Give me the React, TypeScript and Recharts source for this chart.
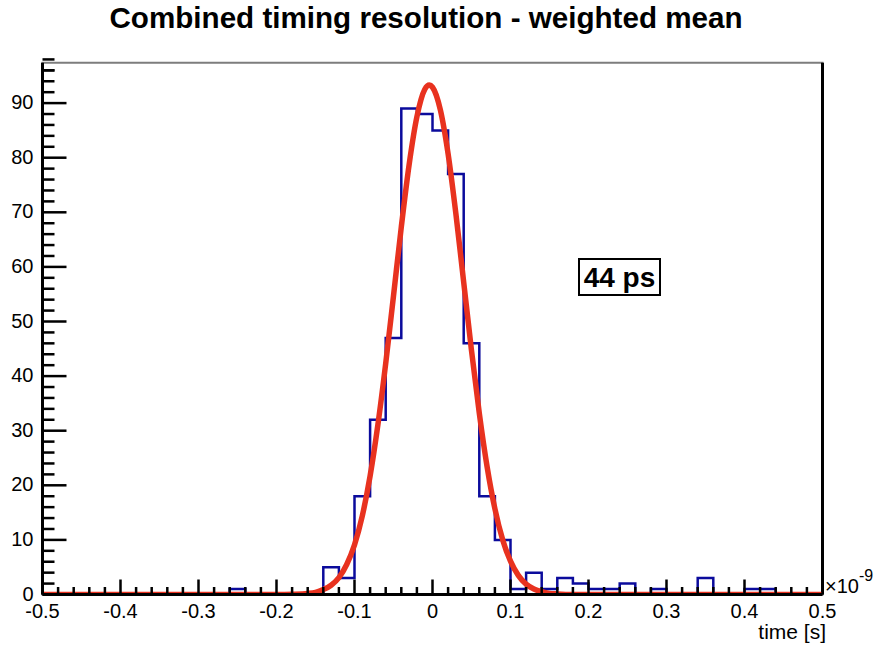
import { ComposedChart, Line, ReferenceArea, ReferenceLine, XAxis, YAxis } from "recharts";

const FONT = "'Liberation Sans', Arial, Helvetica, sans-serif";

// ROOT-like palette
const COLOR = {
  hist: "#0b0b9c", // histogram outline
  fit: "#e8321f", // gaussian fit
  axis: "#000000",
  frame: "#7d7d7d",
} as const;

// 50 bins of 0.02 (x1e-9 s) from -0.5 to 0.5
const BIN_LOW = -0.5;
const BIN_WIDTH = 0.02;
const binCounts = [
  0, 0, 0, 0, 0, 0, 0, 0, 0, 0, // -0.50 .. -0.32
  0, 0, 1, 0, 0, 0, 0, 0, 5, 3, // -0.30 .. -0.12
  18, 32, 47, 89, 88, 85, 77, 46, 18, 10, // -0.10 .. 0.08
  1, 4, 1, 3, 2, 1, 1, 2, 0, 1, // 0.10 .. 0.28
  0, 0, 3, 0, 0, 1, 1, 0, 0, 0, // 0.30 .. 0.48
];

// fitted gaussian
const fitX = [
  -0.5, -0.2, -0.18, -0.16, -0.15, -0.14, -0.13, -0.12, -0.11, -0.1, -0.09, -0.08, -0.07, -0.06, -0.05,
  -0.04, -0.03, -0.02, -0.01, -0.004, 0, 0.01, 0.02, 0.03, 0.04, 0.05, 0.06, 0.07, 0.08, 0.09, 0.1,
  0.11, 0.12, 0.13, 0.14, 0.15, 0.16, 0.18, 0.2, 0.5,
];
const fitY = [
  0, 0, 0.05, 0.2, 0.4, 0.9, 1.7, 3.1, 5.5, 9.1, 14.4, 21.7, 31.1, 42.3, 54.7,
  67.3, 78.7, 87.5, 92.5, 93.3, 92.9, 88.8, 80.7, 69.7, 57.2, 44.7, 33.2, 23.4, 15.7, 10.0, 6.1,
  3.5, 1.9, 1.0, 0.5, 0.2, 0.1, 0, 0, 0,
];

const xMajorTicks = [-0.5, -0.4, -0.3, -0.2, -0.1, 0, 0.1, 0.2, 0.3, 0.4, 0.5];
const yMajorTicks = [0, 10, 20, 30, 40, 50, 60, 70, 80, 90];
const Y_MAX = 97.4;

const round = (v: number) => Math.round(v * 1e6) / 1e6;

// minor ticks: 5 subdivisions per major
const xTicks: number[] = [];
xMajorTicks.forEach((t, i) => {
  if (i === xMajorTicks.length - 1) return xTicks.push(t);
  for (let k = 0; k < 5; k++) xTicks.push(round(t + (k * 0.1) / 5));
});
const yTicks: number[] = [];
yMajorTicks.forEach((t) => {
  for (let k = 0; k < 5; k++) yTicks.push(t + k * 2);
});
yTicks.push(100 - 4); // last minor under the frame top (96)

const histData = [
  ...binCounts.map((c, i) => ({ x: round(BIN_LOW + i * BIN_WIDTH), count: c })),
  { x: round(BIN_LOW + binCounts.length * BIN_WIDTH), count: 0 },
];
const fitData = fitX.map((x, i) => ({ x, fit: fitY[i] }));

const isMajor = (v: number, step: number) => Math.abs(v / step - Math.round(v / step)) < 1e-6;

function XTick(props: any) {
  const { x, y, payload } = props;
  const v = payload.value as number;
  const major = isMajor(v, 0.1);
  return (
    <g>
      <line x1={x} x2={x} y1={y} y2={y - (major ? 15 : 7.5)} stroke={COLOR.axis} strokeWidth={2.5} />
      {major && (
        <text x={x} y={y + 23} textAnchor="middle" fontSize={20} fontFamily={FONT} fill="#000">
          {v === 0 ? "0" : v.toFixed(1)}
        </text>
      )}
    </g>
  );
}

function YTick(props: any) {
  const { x, y, payload } = props;
  const v = payload.value as number;
  const major = isMajor(v, 10);
  return (
    <g>
      <line x1={x} x2={x + (major ? 24 : 12)} y1={y} y2={y} stroke={COLOR.axis} strokeWidth={2.5} />
      {major && (
        <text x={x - 9} y={y + 6} textAnchor="end" fontSize={20} fontFamily={FONT} fill="#000">
          {v}
        </text>
      )}
    </g>
  );
}

export default function App() {
  return (
    <div style={{ position: "relative", width: 874, height: 648, background: "#fff" }}>
      <style>{"body{margin:0}"}</style>
      <ComposedChart width={874} height={648} margin={{ top: 62.7, right: 51.5, bottom: 13.5, left: 0 }}>
        <XAxis
          dataKey="x"
          type="number"
          domain={[-0.5, 0.5]}
          allowDataOverflow
          ticks={xTicks}
          interval={0}
          tickSize={0}
          tickMargin={0}
          tickLine={false}
          tick={(p: any) => <XTick {...p} />}
          axisLine={{ stroke: COLOR.axis, strokeWidth: 3 }}
          height={40}
        />
        <YAxis
          type="number"
          domain={[0, Y_MAX]}
          allowDataOverflow
          ticks={yTicks}
          interval={0}
          tickSize={0}
          tickMargin={0}
          tickLine={false}
          tick={(p: any) => <YTick {...p} />}
          axisLine={{ stroke: COLOR.axis, strokeWidth: 3 }}
          width={42.5}
        />
        <ReferenceArea x1={-0.5} x2={0.5} y1={0} y2={Y_MAX} fill="none" stroke={COLOR.frame} strokeWidth={2} />
        <ReferenceLine x={0.5} stroke={COLOR.axis} strokeWidth={3} />
        <Line
          data={histData}
          dataKey="count"
          type="stepAfter"
          stroke={COLOR.hist}
          strokeWidth={2.5}
          dot={false}
          isAnimationActive={false}
        />
        <Line
          data={fitData}
          dataKey="fit"
          type="monotone"
          stroke={COLOR.fit}
          strokeWidth={5.5}
          dot={false}
          isAnimationActive={false}
        />
      </ComposedChart>
      <svg
        width={874}
        height={648}
        style={{ position: "absolute", left: 0, top: 0, pointerEvents: "none" }}
        fontFamily={FONT}
      >
        <text x={426} y={28} textAnchor="middle" fontSize={29.6} fontWeight="bold" fill="#000">
          Combined timing resolution - weighted mean
        </text>
        <rect x={579} y={259} width={81} height={36} fill="#fff" stroke="#000" strokeWidth={2} />
        <text x={619.5} y={286.5} textAnchor="middle" fontSize={28} fontWeight="bold" fill="#000">
          44 ps
        </text>
        <text x={825} y={593} fontSize={20} fill="#000">
          ×10
          <tspan fontSize={16} dy={-12}>
            -9
          </tspan>
        </text>
        <text x={826} y={639} textAnchor="end" fontSize={21} fill="#000">
          time [s]
        </text>
      </svg>
    </div>
  );
}
